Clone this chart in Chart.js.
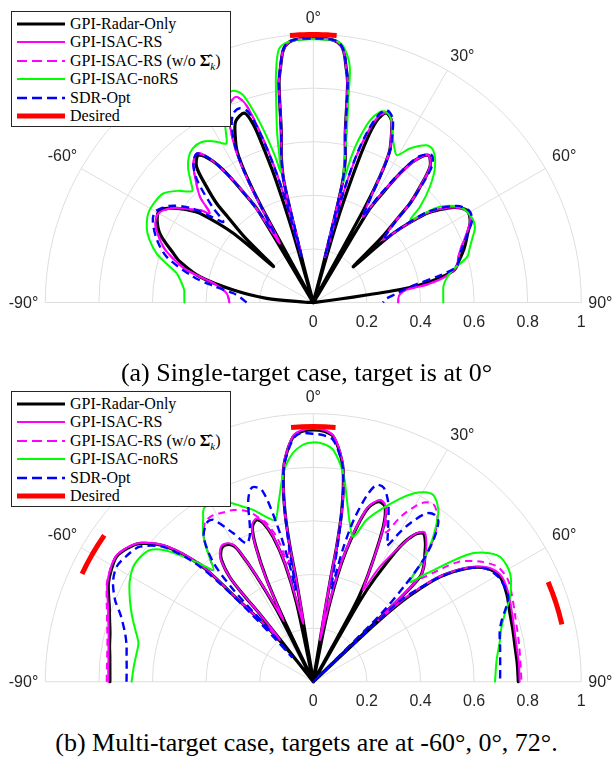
<!DOCTYPE html>
<html><head><meta charset="utf-8">
<script src="https://cdn.jsdelivr.net/npm/chart.js@4.4.0/dist/chart.umd.min.js"></script>
<style>
html,body{margin:0;padding:0;background:#fff;}
body{width:613px;height:764px;position:relative;overflow:hidden;}
.wrap{position:absolute;left:0;width:613px;height:335px;}
canvas{display:block;}
.legend{position:absolute;left:11px;width:220px;height:116px;border:1px solid #262626;background:#fff;box-sizing:border-box;font-family:"Liberation Serif","Times New Roman",serif;font-size:16px;color:#000;}
.row{position:absolute;left:0;height:18px;line-height:18px;white-space:nowrap;}
.row svg{position:absolute;left:4px;top:0;}
.row span{position:absolute;left:58px;top:0;}
.cap{position:absolute;left:0;width:613px;text-align:center;font-family:"Liberation Serif","Times New Roman",serif;font-size:26px;line-height:30px;color:#000;}
</style></head>
<body>
<div class="wrap" style="top:0"><canvas id="ca" width="613" height="335"></canvas></div>
<div class="wrap" style="top:385px"><canvas id="cb" width="613" height="335"></canvas></div>
<div class="legend" id="la" style="top:11px"></div>
<div class="legend" id="lb" style="top:391px"></div>
<div class="cap" style="top:358px">(a) Single-target case, target is at 0°</div>
<div class="cap" style="top:728px">(b) Multi-target case, targets are at -60°, 0°, 72°.</div>
<script>
// ---------- DATA: [angle in degrees, normalized beampattern] ----------
const A_RADAR = [[-90,0],[-88,0.03],[-84.9,0.175],[-81.1,0.302],[-77.2,0.434],[-73,0.52],[-70.6,0.554],[-66,0.625],[-62,0.66],[-58.9,0.668],[-56,0.63],[-53.5,0.58],[-51.8,0.538],[-49.1,0.395],[-47.9,0.2],[-46.5,0.35],[-45,0.45],[-44.3,0.516],[-42.7,0.587],[-40.7,0.668],[-38,0.697],[-35.5,0.65],[-33.9,0.58],[-32.3,0.48],[-31,0.4],[-29.6,0],[-28.5,0.4],[-27.9,0.53],[-26.8,0.63],[-25,0.69],[-23.2,0.735],[-20,0.752],[-18.6,0.7],[-17.8,0.6],[-17,0.48],[-16.3,0.3],[-15.3,0],[-14.6,0.15],[-13.7,0.457],[-12.5,0.55],[-10.7,0.642],[-8.9,0.827],[-7.9,0.888],[-6.8,0.948],[-5.4,0.975],[-3,0.985],[0,0.985],[3,0.985],[5.4,0.975],[6.8,0.948],[7.9,0.888],[8.9,0.827],[10.7,0.642],[12.5,0.55],[13.7,0.457],[14.6,0.15],[15.3,0],[16.3,0.3],[17.3,0.5],[18.2,0.64],[19.3,0.72],[21,0.758],[23.2,0.74],[25,0.69],[26.8,0.63],[27.9,0.53],[28.5,0.4],[29.6,0],[31,0.4],[32.3,0.48],[33.9,0.58],[35.5,0.65],[38,0.697],[40.7,0.668],[42.7,0.587],[44.3,0.516],[45,0.45],[46.5,0.35],[48.2,0.2],[49.1,0.395],[51.8,0.538],[53.5,0.58],[56,0.635],[59,0.668],[62.5,0.66],[66,0.63],[70,0.6],[73.5,0.57],[77,0.54],[79,0.48],[80.7,0.4],[81.6,0.3],[82,0.2],[82.5,0.1],[84,0.02],[90,0]];
const A_RS = [[-90,0.313],[-87,0.317],[-84,0.325],[-81.5,0.345],[-79.1,0.38],[-75.6,0.488],[-72.5,0.55],[-69.6,0.597],[-64,0.655],[-60.1,0.667],[-56,0.63],[-52.5,0.57],[-50.8,0.546],[-49.2,0.51],[-47,0.578],[-43.5,0.64],[-40.8,0.685],[-38,0.706],[-36,0.67],[-33.9,0.58],[-32.5,0.5],[-31.3,0.42],[-29.4,0.253],[-28.6,0.43],[-27.9,0.55],[-26.8,0.65],[-25,0.74],[-23,0.8],[-20.6,0.82],[-18.8,0.78],[-17.4,0.67],[-16.3,0.56],[-15.3,0.42],[-14.3,0.18],[-13.7,0.457],[-12.5,0.55],[-10.7,0.642],[-8.9,0.827],[-7.9,0.888],[-6.8,0.948],[-5.4,0.975],[-3,0.985],[0,0.985],[3,0.985],[5.4,0.975],[6.8,0.948],[7.9,0.888],[8.9,0.827],[10.7,0.642],[12.5,0.55],[13.7,0.457],[14.3,0.176],[15.3,0.42],[16.3,0.56],[17.6,0.66],[19.3,0.735],[21.3,0.76],[23.2,0.74],[25,0.69],[26.8,0.63],[27.9,0.53],[28.8,0.43],[30.2,0.37],[31.5,0.45],[33.9,0.58],[36,0.665],[38,0.697],[40.7,0.668],[42.7,0.587],[44.3,0.516],[45.5,0.42],[48.2,0.35],[49.5,0.42],[51.8,0.54],[56,0.635],[59.5,0.667],[62.5,0.66],[65.8,0.627],[70,0.585],[73,0.565],[76,0.551],[79,0.5],[81,0.43],[82.2,0.35],[84.5,0.325],[87,0.318],[90,0.317]];
const A_RS_WO = [[-90,0.313],[-87,0.317],[-84,0.325],[-81.5,0.345],[-79.1,0.38],[-75.6,0.488],[-72.5,0.55],[-69.6,0.597],[-64,0.655],[-60.1,0.667],[-56,0.63],[-52.5,0.57],[-50.8,0.546],[-49.2,0.51],[-47,0.578],[-43.5,0.64],[-40.8,0.685],[-38,0.706],[-36,0.67],[-33.9,0.58],[-32.5,0.5],[-31.3,0.42],[-29.4,0.253],[-28.6,0.43],[-27.9,0.55],[-26.8,0.65],[-25,0.74],[-23,0.8],[-20.6,0.82],[-18.8,0.78],[-17.4,0.67],[-16.3,0.56],[-15.3,0.42],[-14.3,0.18],[-13.7,0.457],[-12.5,0.55],[-10.7,0.642],[-8.9,0.827],[-7.9,0.888],[-6.8,0.948],[-5.4,0.975],[-3,0.985],[0,0.985],[3,0.985],[5.4,0.975],[6.8,0.948],[7.9,0.888],[8.9,0.827],[10.7,0.642],[12.5,0.55],[13.7,0.457],[14.3,0.176],[15.3,0.42],[16.3,0.56],[17.6,0.66],[19.3,0.735],[21.3,0.76],[23.2,0.74],[25,0.69],[26.8,0.63],[27.9,0.53],[28.8,0.43],[30.2,0.37],[31.5,0.45],[33.9,0.58],[36,0.665],[38,0.697],[40.7,0.668],[42.7,0.587],[44.3,0.516],[45.5,0.42],[48.2,0.35],[49.5,0.42],[51.8,0.54],[56,0.635],[59.5,0.667],[62.5,0.66],[65.8,0.627],[70,0.585],[73,0.565],[76,0.551],[79,0.5],[81,0.43],[82.2,0.35],[84.5,0.325],[87,0.318],[90,0.317]];
const A_NORS = [[-90,0.481],[-87,0.482],[-84.5,0.484],[-81,0.5],[-77.9,0.522],[-75,0.57],[-72.6,0.613],[-69,0.655],[-66,0.68],[-61.6,0.7],[-57.5,0.7],[-54,0.692],[-50.5,0.655],[-48.5,0.625],[-47.3,0.614],[-45.5,0.64],[-43,0.685],[-40.5,0.715],[-38,0.73],[-35,0.73],[-32,0.71],[-29.8,0.685],[-28.6,0.676],[-27,0.72],[-25,0.79],[-22.8,0.838],[-20.7,0.845],[-18.8,0.82],[-17.2,0.74],[-15.8,0.65],[-14.6,0.56],[-14,0.5],[-13.2,0.55],[-12,0.65],[-10.5,0.76],[-9.2,0.87],[-7.7,0.955],[-5.4,0.978],[-2.5,0.982],[0,0.982],[3,0.982],[5.4,0.978],[7,0.955],[8.8,0.89],[9.8,0.766],[11.2,0.643],[12.7,0.519],[13.6,0.475],[14,0.464],[14.5,0.548],[15.5,0.628],[17.3,0.712],[19.3,0.754],[21,0.762],[23.2,0.74],[26.2,0.675],[28.5,0.64],[29.5,0.632],[30.5,0.645],[32.1,0.678],[35.8,0.723],[38.2,0.723],[41.9,0.68],[45.2,0.613],[48.1,0.535],[49.6,0.474],[51,0.52],[52.9,0.592],[56.9,0.653],[61,0.67],[64.9,0.666],[68,0.64],[70.5,0.62],[73.4,0.6],[76,0.55],[78,0.52],[80.5,0.5],[83,0.489],[86,0.486],[90,0.485]];
const A_SDR = [[-90,0.249],[-86.5,0.27],[-83.4,0.3],[-80.5,0.38],[-77.9,0.458],[-72.7,0.573],[-68,0.63],[-63,0.672],[-60,0.68],[-56,0.645],[-52.5,0.58],[-50,0.5],[-48.1,0.451],[-46.5,0.52],[-43.5,0.63],[-40.8,0.685],[-38,0.705],[-36,0.67],[-33.9,0.58],[-32,0.46],[-30.5,0.36],[-29.5,0.3],[-28.5,0.42],[-27.9,0.54],[-26.8,0.64],[-25,0.72],[-23,0.765],[-20.7,0.775],[-18.8,0.75],[-17.4,0.66],[-16.3,0.55],[-15.3,0.42],[-14.3,0.18],[-13.7,0.457],[-12.5,0.55],[-10.7,0.645],[-8.9,0.83],[-7.9,0.89],[-6.8,0.95],[-5.4,0.977],[-3,0.985],[0,0.985],[3,0.985],[5.4,0.977],[6.8,0.95],[7.9,0.89],[8.9,0.83],[10.7,0.645],[12.5,0.55],[13.7,0.457],[14.3,0.18],[15.3,0.43],[16.3,0.57],[17.6,0.67],[19.3,0.745],[20.9,0.768],[23.2,0.75],[25,0.7],[26.8,0.635],[27.9,0.54],[28.8,0.44],[30.2,0.37],[31.5,0.46],[33.9,0.59],[36,0.675],[38.8,0.705],[41,0.675],[42.7,0.6],[44.3,0.52],[45.5,0.43],[48.2,0.35],[49.5,0.43],[51.8,0.55],[56,0.645],[59.5,0.675],[62.5,0.668],[65.8,0.632],[70,0.59],[73,0.57],[76,0.55],[78,0.48],[80,0.39],[82,0.34],[84,0.31],[87.5,0.268],[90,0.26]];
const A_DESIRED = [[-5,1],[-4,1],[-3,1],[-2,1],[-1,1],[0,1],[1,1],[2,1],[3,1],[4,1],[5,1]];

const B_RADAR = [[-90,0.759],[-86,0.761],[-83,0.765],[-80,0.772],[-76.6,0.78],[-73,0.795],[-70,0.81],[-67,0.83],[-64.4,0.848],[-61,0.862],[-57.6,0.87],[-54.5,0.855],[-51.4,0.827],[-47.4,0.744],[-44,0.6],[-42.5,0.41],[-40,0.252],[-38.6,0.12],[-38.5,0],[-38.2,0.2],[-38.3,0.32],[-38.8,0.42],[-38.6,0.5],[-37,0.57],[-35,0.6],[-32.9,0.607],[-30.5,0.59],[-29.6,0.56],[-28.3,0.45],[-27,0.3],[-26,0],[-25.3,0.25],[-24.5,0.42],[-23,0.55],[-21.5,0.62],[-19.3,0.64],[-17.5,0.62],[-15.5,0.56],[-13.5,0.45],[-12,0.3],[-10.5,0],[-9.5,0.2],[-9.5,0.385],[-9.8,0.511],[-9.5,0.637],[-8.5,0.761],[-7.3,0.834],[-4.7,0.917],[-2.5,0.935],[0,0.94],[2.5,0.935],[4.7,0.917],[7.3,0.834],[8.5,0.761],[9.5,0.637],[9.8,0.511],[9.5,0.385],[9.3,0.2],[10,0],[11.5,0.25],[12.8,0.4],[14,0.5],[15.7,0.6],[17.5,0.68],[19.9,0.714],[22.3,0.706],[24.3,0.635],[26.2,0.506],[27.8,0.4],[28.6,0.3],[29,0],[30,0.35],[30.8,0.45],[32.7,0.6],[34.5,0.665],[36.6,0.689],[39,0.665],[41,0.635],[43.5,0.6],[45.5,0.559],[46.2,0.4],[46.5,0],[47,0.3],[47.4,0.4],[48.5,0.5],[50.4,0.614],[53.5,0.711],[56.8,0.773],[60.6,0.799],[65.5,0.793],[70.8,0.777],[75,0.77],[80.2,0.764],[85,0.764],[90,0.765]];
const B_RS = [[-90,0.765],[-86,0.767],[-83,0.77],[-80,0.776],[-76.6,0.785],[-73,0.8],[-70,0.815],[-67,0.835],[-64.4,0.852],[-61,0.866],[-57.6,0.873],[-54.5,0.858],[-51.4,0.83],[-47.4,0.748],[-44,0.605],[-42.5,0.415],[-40,0.26],[-38.6,0.2],[-38.3,0.32],[-38.8,0.42],[-38.6,0.5],[-37,0.575],[-35,0.605],[-32.9,0.612],[-30.5,0.595],[-29.6,0.565],[-28.3,0.455],[-27,0.33],[-25.9,0.25],[-25.1,0.33],[-24.5,0.43],[-23,0.555],[-21.5,0.625],[-19.3,0.645],[-17.5,0.625],[-15.5,0.565],[-13.5,0.455],[-12,0.33],[-9.7,0.22],[-9.5,0.385],[-9.8,0.511],[-9.5,0.637],[-8.5,0.763],[-7.3,0.836],[-4.7,0.92],[-2.5,0.94],[0,0.945],[2.5,0.94],[4.7,0.92],[7.3,0.838],[8.5,0.765],[9.5,0.64],[9.8,0.511],[9.5,0.385],[9.1,0.158],[11.5,0.3],[12.8,0.42],[14,0.51],[15.7,0.605],[17.5,0.685],[20.2,0.722],[22.3,0.71],[24.3,0.64],[26.2,0.51],[27.8,0.41],[28.6,0.39],[30.1,0.496],[32.7,0.6],[34.5,0.668],[36.6,0.695],[39,0.67],[41,0.64],[43.5,0.6],[45.5,0.56],[46.5,0.334],[47.5,0.45],[48.5,0.52],[50.4,0.62],[53.5,0.715],[56.8,0.778],[60.6,0.805],[65.5,0.8],[70.8,0.785],[75,0.776],[80.2,0.77],[85,0.77],[90,0.77]];
const B_RS_WO = [[-90,0.771],[-86,0.772],[-83,0.775],[-80,0.78],[-76.6,0.79],[-73,0.805],[-70,0.82],[-67,0.838],[-64.4,0.854],[-61,0.866],[-57.6,0.872],[-54.5,0.858],[-51.4,0.83],[-47.4,0.75],[-44,0.62],[-42,0.56],[-40,0.6],[-37,0.68],[-34,0.72],[-31,0.725],[-28,0.715],[-25,0.707],[-21,0.68],[-18,0.64],[-16.4,0.616],[-14,0.55],[-12,0.45],[-10.5,0.5],[-9.5,0.637],[-8.5,0.763],[-7.3,0.836],[-4.7,0.92],[-2.5,0.94],[0,0.945],[2.5,0.94],[4.7,0.92],[7.3,0.838],[8.5,0.765],[9.5,0.64],[9.8,0.511],[9.5,0.385],[9.1,0.2],[11.5,0.3],[12.8,0.42],[14,0.51],[15.7,0.605],[17.5,0.685],[20.2,0.722],[22.3,0.71],[24.3,0.66],[26,0.62],[28,0.7],[31.3,0.78],[34,0.8],[37,0.77],[40,0.7],[42.1,0.61],[44,0.52],[46.3,0.56],[50.4,0.7],[54.2,0.766],[58,0.81],[62,0.82],[66,0.81],[72,0.792],[80,0.78],[90,0.777]];
const B_NORS = [[-90,0.678],[-85,0.672],[-81,0.668],[-77.6,0.668],[-74,0.69],[-70,0.72],[-66,0.749],[-61.5,0.78],[-57.4,0.797],[-54,0.795],[-51.1,0.783],[-48.5,0.74],[-46.1,0.673],[-43.5,0.6],[-41.8,0.559],[-40,0.6],[-38.3,0.65],[-36.6,0.689],[-34,0.735],[-32.2,0.765],[-29,0.765],[-26.5,0.75],[-24.2,0.729],[-21.5,0.7],[-19.3,0.679],[-16,0.64],[-13.3,0.62],[-11,0.68],[-8.2,0.785],[-5.5,0.85],[-2.5,0.885],[0,0.893],[2.5,0.888],[4.9,0.868],[8.2,0.785],[10.2,0.701],[13,0.606],[15.4,0.561],[18.2,0.635],[21.2,0.687],[25,0.75],[28,0.795],[30.5,0.82],[32.7,0.828],[34.8,0.81],[36.6,0.782],[39.6,0.702],[42.1,0.612],[44,0.519],[46.3,0.585],[50.4,0.742],[53,0.8],[56.2,0.838],[61.2,0.838],[66.6,0.8],[70.4,0.759],[74,0.73],[77.4,0.714],[83.2,0.689],[90,0.678]];
const B_SDR = [[-90,0.697],[-86,0.698],[-83,0.702],[-79,0.71],[-75.6,0.725],[-71,0.76],[-67.6,0.8],[-63.5,0.835],[-59.7,0.85],[-56,0.84],[-52.1,0.82],[-48,0.75],[-45,0.63],[-43.5,0.5],[-42.5,0.35],[-41.5,0.2],[-41,0.123],[-40.5,0.3],[-41,0.45],[-40,0.58],[-37,0.68],[-33.5,0.715],[-31.7,0.71],[-28.3,0.629],[-25.7,0.573],[-23.1,0.602],[-19.7,0.72],[-17.5,0.76],[-15,0.74],[-13,0.6],[-11.5,0.45],[-10.8,0.35],[-10.2,0.5],[-9.5,0.64],[-8.5,0.76],[-7.3,0.83],[-4.7,0.91],[-3,0.928],[0,0.925],[2.5,0.92],[4.7,0.905],[7.3,0.83],[8.5,0.76],[9.5,0.64],[10.2,0.5],[11,0.35],[12.5,0.5],[14,0.62],[16,0.72],[17.8,0.771],[20,0.77],[22.8,0.722],[25.3,0.654],[27.5,0.6],[28.5,0.578],[30,0.64],[31.4,0.692],[33.9,0.757],[36,0.77],[38,0.758],[40.3,0.693],[42.1,0.612],[43.5,0.5],[45,0.35],[46.5,0],[46.8,0.3],[47,0.444],[48.5,0.52],[50.4,0.61],[53.5,0.71],[56.8,0.77],[61,0.795],[66.4,0.794],[69,0.77],[71.9,0.74],[75,0.72],[79.4,0.709],[85,0.7],[90,0.697]];
const B_DESIRED = [[-65,0.952],[-62.5,0.952],[-60,0.952],[-57.5,0.952],[-55,0.952],[null,null],[-5,0.952],[-2.5,0.952],[0,0.952],[2.5,0.952],[5,0.952],[null,null],[67,0.952],[69.5,0.952],[72,0.952],[74.5,0.952],[77,0.952]];

const SERIES_LABELS = ['GPI-Radar-Only','GPI-ISAC-RS','GPI-ISAC-RS (w/o Σ̂_k)','GPI-ISAC-noRS','SDR-Opt','Desired'];
const RING_TICKS = [0.2,0.4,0.6,0.8,1];
const TICK_LABELS = ['0','0.2','0.4','0.6','0.8','1'];
const TICK_VALUES = [0,0.2,0.4,0.6,0.8,1];
const SPOKE_ANGLES = [-90,-60,-30,0,30,60,90];

// ---------- styles ----------
const STYLES = [
  {color:'#000000', width:3.2, dash:[], cap:'round'},
  {color:'#ff00ff', width:2, dash:[], cap:'round'},
  {color:'#ff00ff', width:2, dash:[7,5], cap:'butt'},
  {color:'#00ff00', width:2, dash:[], cap:'round'},
  {color:'#0000ff', width:2.4, dash:[8,5], cap:'butt'},
  {color:'#ff0000', width:5, dash:[], cap:'butt'}
];

const DEG = Math.PI/180;
function toXY(pairs){
  return pairs.map(([a,r]) => (a===null||r===null) ? {x:null,y:null} : {x:r*Math.sin(a*DEG), y:r*Math.cos(a*DEG)});
}

const R_PX = 268, CX = 313.3, W = 613, H = 335;

const polarGrid = {
  id:'polarGrid',
  beforeDatasetsDraw(chart){
    const {ctx} = chart; const xs = chart.scales.x, ys = chart.scales.y;
    const cx = xs.getPixelForValue(0), cy = ys.getPixelForValue(0);
    const R = xs.getPixelForValue(1) - cx;
    ctx.save();
    ctx.strokeStyle = '#dedede'; ctx.lineWidth = 1;
    RING_TICKS.forEach(r => { ctx.beginPath(); ctx.arc(cx, cy, r*R, Math.PI, 2*Math.PI); ctx.stroke(); });
    SPOKE_ANGLES.forEach(a => { const t=a*DEG; ctx.beginPath(); ctx.moveTo(cx,cy); ctx.lineTo(cx+R*Math.sin(t), cy-R*Math.cos(t)); ctx.stroke(); });
    ctx.fillStyle = '#262626';
    ctx.font = '16px "Liberation Sans", Arial, Helvetica, sans-serif';
    ctx.textBaseline = 'middle';
    SPOKE_ANGLES.forEach(a => {
      const txt = a + '°';
      if (a === 90){ ctx.textAlign='left'; ctx.fillText(txt, cx+R+7, cy+1); }
      else if (a === -90){ ctx.textAlign='right'; ctx.fillText(txt, cx-R-7, cy+1); }
      else {
        const t=a*DEG, rr = 1.068*R, s = Math.sign(a), abs = Math.abs(a);
        const dx = abs===30 ? 6*s : (abs===60 ? 3*s : 0);
        const dy = abs===60 ? -3 : 2;
        ctx.textAlign='center';
        ctx.fillText(txt, cx+rr*Math.sin(t)+dx, cy-rr*Math.cos(t)+dy);
      }
    });
    ctx.textAlign='center';
    TICK_VALUES.forEach((v,i) => ctx.fillText(TICK_LABELS[i], xs.getPixelForValue(v), cy+20));
    ctx.restore();
  }
};

function makeChart(id, seriesData, cy){
  const datasets = seriesData.map((d,i) => ({
    label: SERIES_LABELS[i],
    data: toXY(d),
    showLine: true,
    borderColor: STYLES[i].color,
    backgroundColor: STYLES[i].color,
    borderWidth: STYLES[i].width,
    borderDash: STYLES[i].dash,
    borderCapStyle: STYLES[i].cap,
    borderJoinStyle: 'round',
    pointRadius: 0, pointHoverRadius: 0,
    tension: i===5 ? 0 : 0.3,
    fill: false,
    order: 10 - i
  }));
  return new Chart(document.getElementById(id), {
    type: 'scatter',
    data: {datasets},
    options: {
      responsive:false, animation:false, devicePixelRatio:1, events:[],
      layout:{padding:0},
      plugins:{legend:{display:false}, tooltip:{enabled:false}},
      scales:{
        x:{type:'linear', display:false, min:-CX/R_PX, max:(W-CX)/R_PX},
        y:{type:'linear', display:false, min:-(H-cy)/R_PX, max:cy/R_PX}
      }
    },
    plugins:[polarGrid]
  });
}

makeChart('ca', [A_RADAR, A_RS, A_RS_WO, A_NORS, A_SDR, A_DESIRED], 302.5);
makeChart('cb', [B_RADAR, B_RS, B_RS_WO, B_NORS, B_SDR, B_DESIRED], 296.7);

// ---------- HTML legends ----------
function legendHTML(){
  const names = ['GPI-Radar-Only','GPI-ISAC-RS','GPI-ISAC-RS (w/o <b>Σ̂</b><sub style="font-size:11px;font-style:italic;">k</sub>)','GPI-ISAC-noRS','SDR-Opt','Desired'];
  let h='';
  STYLES.forEach((s,i) => {
    const top = 2.7 + 18.5*i;
    h += '<div class="row" style="top:'+top+'px"><svg width="50" height="18"><line x1="1" y1="9" x2="49" y2="9" stroke="'+s.color+'" stroke-width="'+(i===5?5:s.width)+'"'+(s.dash.length?' stroke-dasharray="10,5"':'')+'/></svg><span>'+names[i]+'</span></div>';
  });
  return h;
}
document.getElementById('la').innerHTML = legendHTML();
document.getElementById('lb').innerHTML = legendHTML();
</script>
</body></html>
